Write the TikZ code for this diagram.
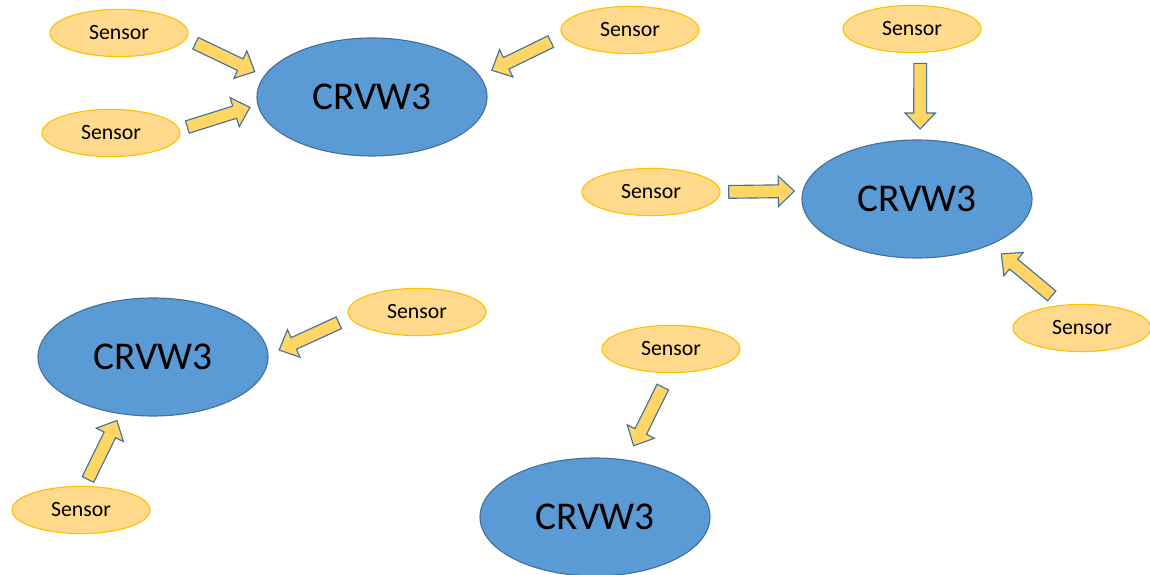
\documentclass[tikz,border=0pt]{standalone}
\usepackage{fontspec}
\setmainfont{Carlito}
\usetikzlibrary{calc,shapes.geometric}

\definecolor{crvwfill}{HTML}{5B9BD5}
\definecolor{crvwline}{HTML}{41719C}
\definecolor{sensfill}{HTML}{FFDA8C}
\definecolor{sensline}{HTML}{FFC000}
\definecolor{feedfill}{HTML}{FFD664}

% fat arrow, centred between two border points
\newcommand{\feed}[2]{%
  \draw[feed] let \p1=($(#2)-(#1)$), \n1={atan2(\y1,\x1)}, \n2={\n1+90},
      \p2=($(#1)!0.5!(#2)$) in
    ($(\p2)+(\n1:-0.82cm)+(\n2:0.16cm)$) -- ($(\p2)+(\n1:0.42cm)+(\n2:0.16cm)$)
    -- ($(\p2)+(\n1:0.42cm)+(\n2:0.38cm)$) -- ($(\p2)+(\n1:0.82cm)$)
    -- ($(\p2)+(\n1:0.42cm)+(\n2:-0.38cm)$) -- ($(\p2)+(\n1:0.42cm)+(\n2:-0.16cm)$)
    -- ($(\p2)+(\n1:-0.82cm)+(\n2:-0.16cm)$) -- cycle;
}

\begin{document}
\begin{tikzpicture}[
    crvw/.style={ellipse,draw=crvwline,fill=crvwfill,line width=0.8pt,
      minimum width=5.75cm,minimum height=2.95cm,inner sep=0pt,
      font=\fontsize{28}{32}\selectfont},
    sensor/.style={ellipse,draw=sensline,fill=sensfill,line width=0.8pt,
      minimum width=3.45cm,minimum height=1.18cm,inner sep=0pt,
      font=\fontsize{15.5}{18}\selectfont},
    feed/.style={draw=crvwline,fill=feedfill,line width=0.8pt,line join=miter}]
  \useasboundingbox (0,0) rectangle (28.75,14.375);
  % top left
  \node[crvw] (c1) at (9.3,11.95) {CRVW3};
  \node[sensor] (s1a) at (2.975,13.55) {Sensor};
  \node[sensor] (s1b) at (2.775,11.05) {Sensor};
  \node[sensor] (s1c) at (15.75,13.625) {Sensor};
  \feed{s1a.-5}{c1.169}
  \feed{s1b.3}{c1.184}
  \feed{s1c.185}{c1.11}
  % right
  \node[crvw] (c2) at (22.925,9.4) {CRVW3};
  \node[sensor] (s2a) at (22.8,13.65) {Sensor};
  \node[sensor] (s2b) at (16.275,9.575) {Sensor};
  \node[sensor] (s2c) at (27.05,6.175) {Sensor};
  \feed{s2a.-71}{c2.87}
  \feed{s2b.0}{c2.176}
  \feed{s2c.130}{c2.-32}
  % bottom left
  \node[crvw] (c3) at (3.825,5.45) {CRVW3};
  \node[sensor] (s3a) at (10.425,6.575) {Sensor};
  \node[sensor] (s3b) at (2.025,1.625) {Sensor};
  \feed{s3a.185}{c3.1}
  \feed{s3b.81}{c3.240}
  % bottom centre
  \node[crvw] (c4) at (14.875,1.45) {CRVW3};
  \node[sensor] (s4) at (16.775,5.65) {Sensor};
  \feed{s4.267}{c4.61}
\end{tikzpicture}
\end{document}
